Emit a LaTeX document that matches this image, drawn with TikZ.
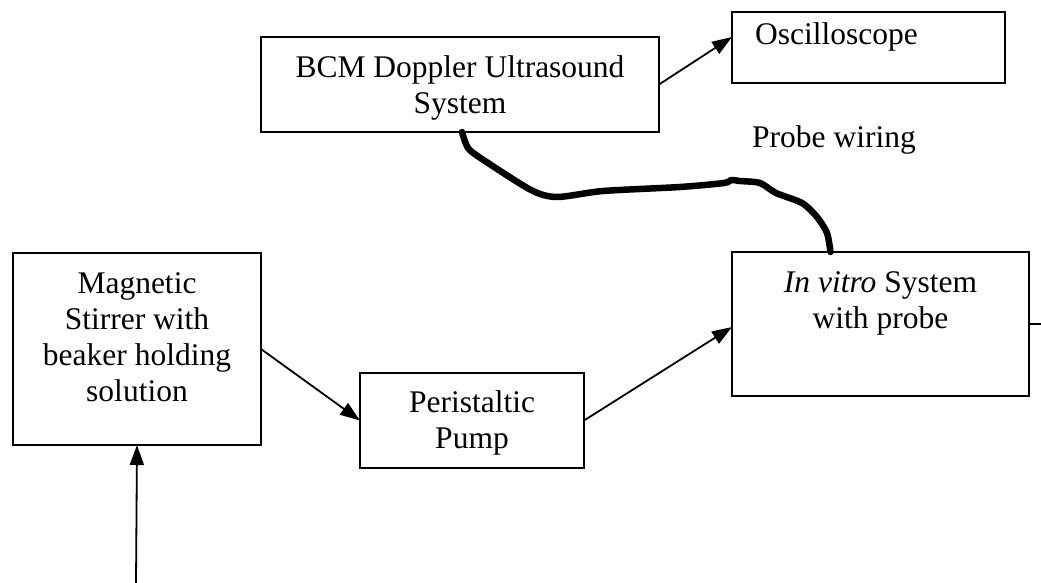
\documentclass[tikz,border=0pt]{standalone}
\usepackage{fontspec}
\setmainfont{Liberation Serif}
\usetikzlibrary{arrows.meta}
\begin{document}
\begin{tikzpicture}[x=1pt,y=-1pt,
  boxnode/.style={draw,line width=1.7pt,rectangle,inner sep=0pt,outer sep=0pt},
  txt/.style={font=\fontsize{31.5}{36}\selectfont,align=center,inner sep=0pt,anchor=north},
  lbl/.style={font=\fontsize{31.5}{36}\selectfont,inner sep=0pt,anchor=base west},
  arr/.style={line width=1.8pt,-{Triangle[length=20pt,width=14pt]}},
  plain/.style={line width=1.8pt},
  wire/.style={line width=6.5pt,line cap=round,line join=round}]
\useasboundingbox (0,0) rectangle (1041,583);
% boxes
\node[boxnode,minimum width=398pt,minimum height=95pt] (bcm) at (460,84.5) {};
\node[boxnode,minimum width=273pt,minimum height=71pt] (osc) at (868.5,47.5) {};
\node[boxnode,minimum width=297pt,minimum height=144pt] (vitro) at (880.5,324) {};
\node[boxnode,minimum width=248pt,minimum height=192pt] (stir) at (137,349) {};
\node[boxnode,minimum width=224pt,minimum height=95pt] (pump) at (472,420.5) {};
% texts
\node[txt] (bcmtxt) at (460,51.8) {\strut BCM Doppler Ultrasound\\\strut System};
\node[lbl] (osctxt) at (755,45) {Oscilloscope};
\node[lbl] (probetxt) at (752,147) {Probe wiring};
\node[txt] (vitrotxt) at (880.5,266.8) {\strut\textit{In vitro} System\\\strut with probe};
\node[txt] (stirtxt) at (137,267.8) {\strut Magnetic\\\strut Stirrer with\\\strut beaker holding\\\strut solution};
\node[txt] (pumptxt) at (472,386.8) {\strut Peristaltic\\\strut Pump};
% free ends
\coordinate (inlet) at (136,583);
\coordinate (outlet) at (1041,324);
% connectors
\draw[arr] (bcm.east) -- ([yshift=10.5pt]osc.west);
\draw[arr] (stir.east) -- (pump.west);
\draw[arr] (pump.east) -- ([yshift=-3pt]vitro.west);
\draw[arr] (inlet) -- (stir.south);
\draw[plain] (vitro.east) -- (outlet);
\draw[wire] plot[smooth,tension=0.45] coordinates {([xshift=2pt]bcm.south) (468,148) (482,159) (531,190) (557,197) (603,191) (680,187) (724,183) (731,180) (740,181) (760,183) (776,193) (802,203) (817,217) (827,233) ([xshift=-50pt]vitro.north)};
\end{tikzpicture}
\end{document}
